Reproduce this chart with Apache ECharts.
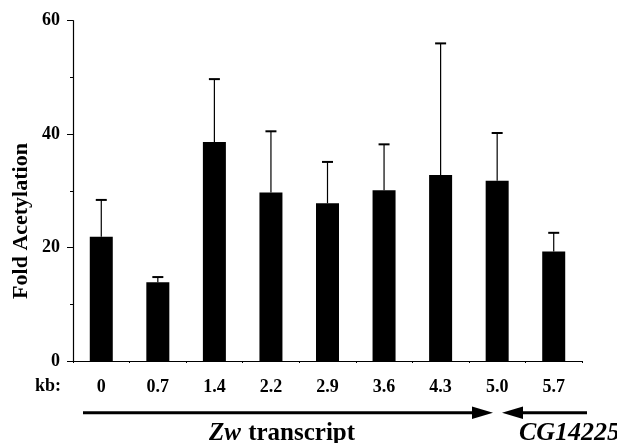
<!DOCTYPE html>
<html><head><meta charset="utf-8">
<script src="https://cdn.jsdelivr.net/npm/echarts@6/dist/echarts.min.js"></script>
<style>html,body{margin:0;padding:0;background:#fff}#c{width:617px;height:443px}</style>
</head><body><div id="c"></div>
<script>
const categories = ['0','0.7','1.4','2.2','2.9','3.6','4.3','5.0','5.7'];
const values = [21.9, 13.9, 38.6, 29.7, 27.8, 30.1, 32.8, 31.8, 19.3];
const errTops = [28.4, 14.8, 49.7, 40.5, 35.1, 38.2, 56.0, 40.2, 22.6];
const yTicks = [0, 20, 40, 60];
const FONT = '"Liberation Serif", serif';

const chart = echarts.init(document.getElementById('c'), null, {renderer:'canvas'});
const errData = categories.map((c,i)=>[i, values[i], errTops[i]]);
chart.setOption({
  animation:false,
  backgroundColor:'#fff',
  grid:{left:73, right:35, top:20.7, bottom:82, containLabel:false},
  xAxis:{
    type:'category', data:categories, boundaryGap:true,
    axisLine:{lineStyle:{color:'#000', width:1.2}},
    axisTick:{show:true, length:2, lineStyle:{color:'#000'}},
    axisLabel:{color:'#000', fontFamily:FONT, fontWeight:'bold', fontSize:18, margin:17}
  },
  yAxis:{
    type:'value', min:yTicks[0], max:yTicks[yTicks.length-1], interval:20,
    axisLine:{show:true, lineStyle:{color:'#000', width:1.2}},
    axisTick:{show:true, length:6, lineStyle:{color:'#000'}},
    minorTick:{show:true, splitNumber:2, length:3, lineStyle:{color:'#000'}},
    splitLine:{show:false},
    axisLabel:{color:'#000', fontFamily:FONT, fontWeight:'bold', fontSize:18, margin:13}
  },
  series:[
    {type:'bar', data:values, barWidth:23, itemStyle:{color:'#000'}},
    {type:'custom', data:errData, z:3,
     renderItem:function(params, api){
       const x = api.value(0);
       const base = api.coord([x, api.value(1)]);
       const top = api.coord([x, api.value(2)]);
       return {type:'group', children:[
         {type:'line', shape:{x1:base[0], y1:base[1], x2:top[0], y2:top[1]}, style:{stroke:'#000', lineWidth:1.2}},
         {type:'line', shape:{x1:top[0]-5.5, y1:top[1], x2:top[0]+5.5, y2:top[1]}, style:{stroke:'#000', lineWidth:2}}
       ]};
     }}
  ],
  graphic:[
    {type:'text', x:21, y:221, rotation:Math.PI/2, style:{text:'Fold Acetylation', align:'center', verticalAlign:'middle', fill:'#000', font:'bold 22px '+FONT}},
    {type:'text', left:35, top:377, style:{text:'kb:', fill:'#000', font:'bold 18px '+FONT}},
    {type:'line', shape:{x1:83, y1:412.7, x2:476, y2:412.7}, style:{stroke:'#000', lineWidth:3}},
    {type:'polygon', shape:{points:[[472,406.5],[493,412.7],[472,418.9]]}, style:{fill:'#000'}},
    {type:'polygon', shape:{points:[[523,406.5],[502,412.7],[523,418.9]]}, style:{fill:'#000'}},
    {type:'line', shape:{x1:519, y1:412.7, x2:587, y2:412.7}, style:{stroke:'#000', lineWidth:3}},
    {type:'text', x:282, y:434, style:{text:'{i|Zw} {b|transcript}', align:'center', verticalAlign:'middle',
       rich:{i:{font:'italic bold 25px '+FONT, fill:'#000'}, b:{font:'bold 25px '+FONT, fill:'#000', padding:[0,0,0,4]}}}},
    {type:'text', x:620, y:433, style:{text:'CG14225', align:'right', verticalAlign:'middle', fill:'#000', font:'italic bold 26px '+FONT}}
  ]
});
</script></body></html>
